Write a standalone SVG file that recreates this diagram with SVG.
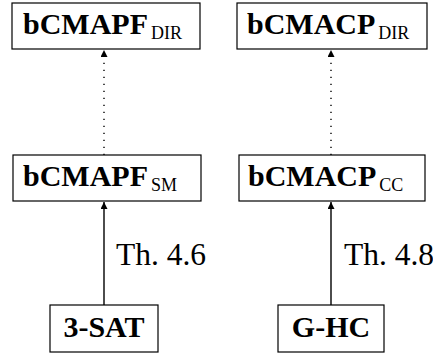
<svg xmlns="http://www.w3.org/2000/svg" width="433" height="356" viewBox="0 0 433 356">
<style>
.box{fill:#fff;stroke:#000;stroke-width:1.2}
.lbl{font-family:"Liberation Serif","Times New Roman",serif;font-size:30px;font-weight:bold;fill:#000}
.sub{font-size:18px;font-weight:normal}
.th{font-family:"Liberation Serif","Times New Roman",serif;font-size:31.5px;fill:#000}
.edge{stroke:#000;stroke-width:1.4;fill:none}
.dot{stroke-dasharray:1.3 5.7}
</style>
<defs>
<marker id="ah" viewBox="0 0 10 10" refX="10" refY="5" markerWidth="10" markerHeight="7" markerUnits="userSpaceOnUse" orient="auto">
<path d="M0,0 L10,5 L0,10 z" fill="#000"/>
</marker>
</defs>
<g id="connectors">
<line class="edge dot" x1="104" y1="155" x2="104" y2="50" marker-end="url(#ah)"/>
<line class="edge dot" x1="331" y1="155" x2="331" y2="50" marker-end="url(#ah)"/>
<line class="edge" x1="104" y1="305" x2="104" y2="202" marker-end="url(#ah)"/>
<line class="edge" x1="331" y1="305" x2="331" y2="202" marker-end="url(#ah)"/>
<text class="th" x="116" y="265">Th. 4.6</text>
<text class="th" x="344" y="265">Th. 4.8</text>
</g>
<g id="bCMAPF_DIR">
<rect class="box" x="12" y="3" width="188" height="46"/>
<text class="lbl" x="23" y="34">bCMAPF<tspan class="sub" dx="3" dy="5">DIR</tspan></text>
</g>
<g id="bCMACP_DIR">
<rect class="box" x="237" y="3" width="190" height="46"/>
<text class="lbl" x="247" y="34">bCMACP<tspan class="sub" dx="3" dy="5">DIR</tspan></text>
</g>
<g id="bCMAPF_SM">
<rect class="box" x="13" y="155" width="188" height="46"/>
<text class="lbl" x="23" y="186">bCMAPF<tspan class="sub" dx="3" dy="5">SM</tspan></text>
</g>
<g id="bCMACP_CC">
<rect class="box" x="239" y="155" width="186" height="46"/>
<text class="lbl" x="248" y="186">bCMACP<tspan class="sub" dx="3" dy="5">CC</tspan></text>
</g>
<g id="3-SAT">
<rect class="box" x="50" y="305" width="108" height="47"/>
<text class="lbl" x="104" y="337" text-anchor="middle">3-SAT</text>
</g>
<g id="G-HC">
<rect class="box" x="278" y="305" width="106" height="47"/>
<text class="lbl" x="331" y="337" text-anchor="middle">G-HC</text>
</g>
</svg>
